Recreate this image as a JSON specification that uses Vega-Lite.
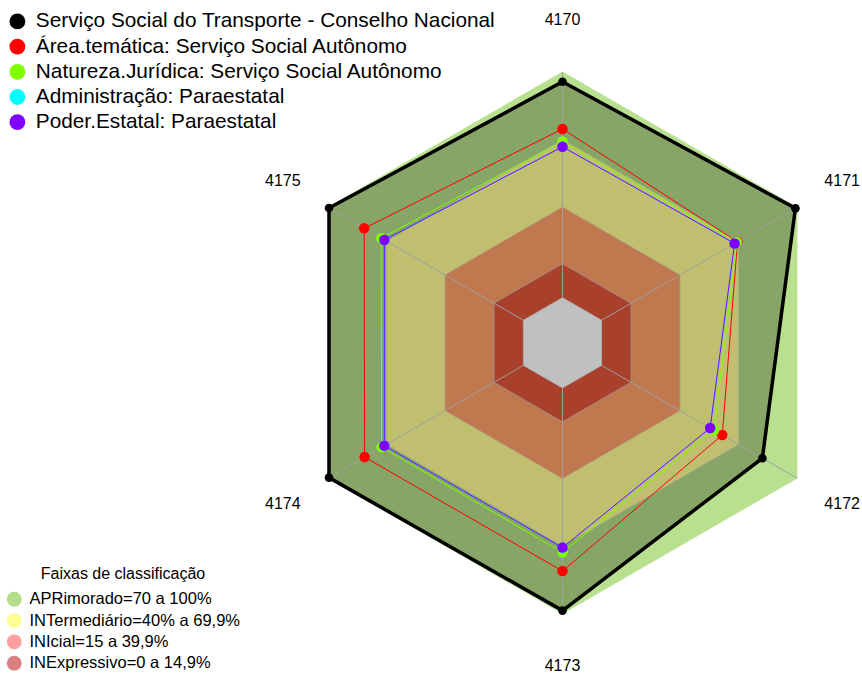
{
  "$schema": "https://vega.github.io/schema/vega-lite/v6.json",
  "width": 862,
  "height": 675,
  "padding": 0,
  "autosize": "none",
  "background": "white",
  "config": {"view": {"stroke": null}, "font": "Liberation Sans"},
  "datasets": {
    "series": [
      {"serie": "Serviço Social do Transporte - Conselho Nacional", "eixo": "4170", "idx": 0, "v": 95.6},
      {"serie": "Serviço Social do Transporte - Conselho Nacional", "eixo": "4171", "idx": 1, "v": 99.1},
      {"serie": "Serviço Social do Transporte - Conselho Nacional", "eixo": "4172", "idx": 2, "v": 82.2},
      {"serie": "Serviço Social do Transporte - Conselho Nacional", "eixo": "4173", "idx": 3, "v": 98.6},
      {"serie": "Serviço Social do Transporte - Conselho Nacional", "eixo": "4174", "idx": 4, "v": 99.4},
      {"serie": "Serviço Social do Transporte - Conselho Nacional", "eixo": "4175", "idx": 5, "v": 99.4},
      {"serie": "Área.temática: Serviço Social Autônomo", "eixo": "4170", "idx": 0, "v": 74.7},
      {"serie": "Área.temática: Serviço Social Autônomo", "eixo": "4171", "idx": 1, "v": 69.5},
      {"serie": "Área.temática: Serviço Social Autônomo", "eixo": "4172", "idx": 2, "v": 61.7},
      {"serie": "Área.temática: Serviço Social Autônomo", "eixo": "4173", "idx": 3, "v": 81.1},
      {"serie": "Área.temática: Serviço Social Autônomo", "eixo": "4174", "idx": 4, "v": 81.2},
      {"serie": "Área.temática: Serviço Social Autônomo", "eixo": "4175", "idx": 5, "v": 81.4},
      {"serie": "Natureza.Jurídica: Serviço Social Autônomo", "eixo": "4170", "idx": 0, "v": 69.1},
      {"serie": "Natureza.Jurídica: Serviço Social Autônomo", "eixo": "4171", "idx": 1, "v": 69.2},
      {"serie": "Natureza.Jurídica: Serviço Social Autônomo", "eixo": "4172", "idx": 2, "v": 57.5},
      {"serie": "Natureza.Jurídica: Serviço Social Autônomo", "eixo": "4173", "idx": 3, "v": 72.8},
      {"serie": "Natureza.Jurídica: Serviço Social Autônomo", "eixo": "4174", "idx": 4, "v": 72.5},
      {"serie": "Natureza.Jurídica: Serviço Social Autônomo", "eixo": "4175", "idx": 5, "v": 72.7},
      {"serie": "Administração: Paraestatal", "eixo": "4170", "idx": 0, "v": 66.8},
      {"serie": "Administração: Paraestatal", "eixo": "4171", "idx": 1, "v": 68.0},
      {"serie": "Administração: Paraestatal", "eixo": "4172", "idx": 2, "v": 55.5},
      {"serie": "Administração: Paraestatal", "eixo": "4173", "idx": 3, "v": 70.7},
      {"serie": "Administração: Paraestatal", "eixo": "4174", "idx": 4, "v": 71.1},
      {"serie": "Administração: Paraestatal", "eixo": "4175", "idx": 5, "v": 71.1},
      {"serie": "Poder.Estatal: Paraestatal", "eixo": "4170", "idx": 0, "v": 66.8},
      {"serie": "Poder.Estatal: Paraestatal", "eixo": "4171", "idx": 1, "v": 68.0},
      {"serie": "Poder.Estatal: Paraestatal", "eixo": "4172", "idx": 2, "v": 55.5},
      {"serie": "Poder.Estatal: Paraestatal", "eixo": "4173", "idx": 3, "v": 70.7},
      {"serie": "Poder.Estatal: Paraestatal", "eixo": "4174", "idx": 4, "v": 71.1},
      {"serie": "Poder.Estatal: Paraestatal", "eixo": "4175", "idx": 5, "v": 71.1}
    ],
    "faixas": [
      {"faixa": "APR", "idx": 0, "v": 100}, {"faixa": "APR", "idx": 1, "v": 100}, {"faixa": "APR", "idx": 2, "v": 100},
      {"faixa": "APR", "idx": 3, "v": 100}, {"faixa": "APR", "idx": 4, "v": 100}, {"faixa": "APR", "idx": 5, "v": 100},
      {"faixa": "INT", "idx": 0, "v": 70}, {"faixa": "INT", "idx": 1, "v": 70}, {"faixa": "INT", "idx": 2, "v": 70},
      {"faixa": "INT", "idx": 3, "v": 70}, {"faixa": "INT", "idx": 4, "v": 70}, {"faixa": "INT", "idx": 5, "v": 70},
      {"faixa": "INI", "idx": 0, "v": 40}, {"faixa": "INI", "idx": 1, "v": 40}, {"faixa": "INI", "idx": 2, "v": 40},
      {"faixa": "INI", "idx": 3, "v": 40}, {"faixa": "INI", "idx": 4, "v": 40}, {"faixa": "INI", "idx": 5, "v": 40},
      {"faixa": "INE", "idx": 0, "v": 15}, {"faixa": "INE", "idx": 1, "v": 15}, {"faixa": "INE", "idx": 2, "v": 15},
      {"faixa": "INE", "idx": 3, "v": 15}, {"faixa": "INE", "idx": 4, "v": 15}, {"faixa": "INE", "idx": 5, "v": 15},
      {"faixa": "ZERO", "idx": 0, "v": 0}, {"faixa": "ZERO", "idx": 1, "v": 0}, {"faixa": "ZERO", "idx": 2, "v": 0},
      {"faixa": "ZERO", "idx": 3, "v": 0}, {"faixa": "ZERO", "idx": 4, "v": 0}, {"faixa": "ZERO", "idx": 5, "v": 0}
    ],
    "eixos": [
      {"eixo": "4170", "idx": 0}, {"eixo": "4171", "idx": 1}, {"eixo": "4172", "idx": 2},
      {"eixo": "4173", "idx": 3}, {"eixo": "4174", "idx": 4}, {"eixo": "4175", "idx": 5}
    ],
    "legenda": [
      {"nome": "APRimorado=70 a 100%", "idx": 0, "v": 0},
      {"nome": "INTermediário=40% a 69,9%", "idx": 0, "v": 0},
      {"nome": "INIcial=15 a 39,9%", "idx": 0, "v": 0},
      {"nome": "INExpressivo=0 a 14,9%", "idx": 0, "v": 0}
    ]
  },
  "encoding": {
    "x": {"field": "px", "type": "quantitative", "scale": {"domain": [-562.5, 299.5], "nice": false, "zero": false}, "axis": null},
    "y": {"field": "py", "type": "quantitative", "scale": {"domain": [-332.2, 342.8], "nice": false, "zero": false}, "axis": null}
  },
  "layer": [
    {
      "data": {"name": "faixas"},
      "transform": [
        {"filter": "datum.faixa === 'APR'"},
        {"calculate": "45.17 + 2.258*datum.v", "as": "r"},
        {"calculate": "datum.r*sin(datum.idx*PI/3)", "as": "px"},
        {"calculate": "datum.r*cos(datum.idx*PI/3)", "as": "py"}
      ],
      "mark": {"type": "line", "interpolate": "linear-closed", "fill": "#b8e08f", "stroke": "#b8e08f", "strokeWidth": 0.5},
      "encoding": {"order": {"field": "idx", "type": "quantitative"}}
    },
    {
      "data": {"name": "series"},
      "transform": [
        {"filter": "datum.serie === 'Serviço Social do Transporte - Conselho Nacional'"},
        {"calculate": "45.17 + 2.258*datum.v", "as": "r"},
        {"calculate": "datum.r*sin(datum.idx*PI/3)", "as": "px"},
        {"calculate": "datum.r*cos(datum.idx*PI/3)", "as": "py"}
      ],
      "mark": {"type": "line", "interpolate": "linear-closed", "fill": "#87a567", "stroke": "#87a567", "strokeWidth": 0.5},
      "encoding": {"order": {"field": "idx", "type": "quantitative"}}
    },
    {
      "data": {"name": "faixas"},
      "transform": [
        {"filter": "datum.faixa === 'INT'"},
        {"calculate": "45.17 + 2.258*datum.v", "as": "r"},
        {"calculate": "datum.r*sin(datum.idx*PI/3)", "as": "px"},
        {"calculate": "datum.r*cos(datum.idx*PI/3)", "as": "py"}
      ],
      "mark": {"type": "line", "interpolate": "linear-closed", "fill": "#c0bf70", "stroke": "#a9a98a", "strokeWidth": 0.8},
      "encoding": {"order": {"field": "idx", "type": "quantitative"}}
    },
    {
      "data": {"name": "faixas"},
      "transform": [
        {"filter": "datum.faixa === 'INI'"},
        {"calculate": "45.17 + 2.258*datum.v", "as": "r"},
        {"calculate": "datum.r*sin(datum.idx*PI/3)", "as": "px"},
        {"calculate": "datum.r*cos(datum.idx*PI/3)", "as": "py"}
      ],
      "mark": {"type": "line", "interpolate": "linear-closed", "fill": "#c0784f", "stroke": "#b08a78", "strokeWidth": 0.8},
      "encoding": {"order": {"field": "idx", "type": "quantitative"}}
    },
    {
      "data": {"name": "faixas"},
      "transform": [
        {"filter": "datum.faixa === 'INE'"},
        {"calculate": "45.17 + 2.258*datum.v", "as": "r"},
        {"calculate": "datum.r*sin(datum.idx*PI/3)", "as": "px"},
        {"calculate": "datum.r*cos(datum.idx*PI/3)", "as": "py"}
      ],
      "mark": {"type": "line", "interpolate": "linear-closed", "fill": "#a8402b", "stroke": "#a09090", "strokeWidth": 0.8},
      "encoding": {"order": {"field": "idx", "type": "quantitative"}}
    },
    {
      "data": {"name": "faixas"},
      "transform": [
        {"filter": "datum.faixa === 'ZERO'"},
        {"calculate": "45.17 + 2.258*datum.v", "as": "r"},
        {"calculate": "datum.r*sin(datum.idx*PI/3)", "as": "px"},
        {"calculate": "datum.r*cos(datum.idx*PI/3)", "as": "py"}
      ],
      "mark": {"type": "line", "interpolate": "linear-closed", "fill": "#c0c0c0", "stroke": "#b0b0b0", "strokeWidth": 0.8},
      "encoding": {"order": {"field": "idx", "type": "quantitative"}}
    },
    {
      "data": {"name": "eixos"},
      "transform": [
        {"calculate": "45.17*sin(datum.idx*PI/3)", "as": "px"},
        {"calculate": "45.17*cos(datum.idx*PI/3)", "as": "py"},
        {"calculate": "(45.17 + 2.258*100)*sin(datum.idx*PI/3)", "as": "px2"},
        {"calculate": "(45.17 + 2.258*100)*cos(datum.idx*PI/3)", "as": "py2"}
      ],
      "mark": {"type": "rule", "color": "#a0a0a0", "strokeWidth": 1},
      "encoding": {
        "x2": {"field": "px2"},
        "y2": {"field": "py2"}
      }
    },
    {
      "data": {"name": "series"},
      "transform": [
        {"filter": "datum.serie === 'Serviço Social do Transporte - Conselho Nacional'"},
        {"calculate": "45.17 + 2.258*datum.v", "as": "r"},
        {"calculate": "datum.r*sin(datum.idx*PI/3)", "as": "px"},
        {"calculate": "datum.r*cos(datum.idx*PI/3)", "as": "py"}
      ],
      "mark": {"type": "line", "interpolate": "linear-closed", "strokeWidth": 3.5, "stroke": "#000000"},
      "encoding": {"order": {"field": "idx", "type": "quantitative"}}
    },
    {
      "data": {"name": "series"},
      "transform": [
        {"filter": "datum.serie === 'Área.temática: Serviço Social Autônomo'"},
        {"calculate": "45.17 + 2.258*datum.v", "as": "r"},
        {"calculate": "datum.r*sin(datum.idx*PI/3)", "as": "px"},
        {"calculate": "datum.r*cos(datum.idx*PI/3)", "as": "py"}
      ],
      "mark": {"type": "line", "interpolate": "linear-closed", "strokeWidth": 1, "stroke": "#ff0000"},
      "encoding": {"order": {"field": "idx", "type": "quantitative"}}
    },
    {
      "data": {"name": "series"},
      "transform": [
        {"filter": "datum.serie === 'Natureza.Jurídica: Serviço Social Autônomo'"},
        {"calculate": "45.17 + 2.258*datum.v", "as": "r"},
        {"calculate": "datum.r*sin(datum.idx*PI/3)", "as": "px"},
        {"calculate": "datum.r*cos(datum.idx*PI/3)", "as": "py"}
      ],
      "mark": {"type": "line", "interpolate": "linear-closed", "strokeWidth": 1, "stroke": "#80ff00"},
      "encoding": {"order": {"field": "idx", "type": "quantitative"}}
    },
    {
      "data": {"name": "series"},
      "transform": [
        {"filter": "datum.serie === 'Administração: Paraestatal'"},
        {"calculate": "45.17 + 2.258*datum.v", "as": "r"},
        {"calculate": "datum.r*sin(datum.idx*PI/3)", "as": "px"},
        {"calculate": "datum.r*cos(datum.idx*PI/3)", "as": "py"}
      ],
      "mark": {"type": "line", "interpolate": "linear-closed", "strokeWidth": 1, "stroke": "#00ffff"},
      "encoding": {"order": {"field": "idx", "type": "quantitative"}}
    },
    {
      "data": {"name": "series"},
      "transform": [
        {"filter": "datum.serie === 'Poder.Estatal: Paraestatal'"},
        {"calculate": "45.17 + 2.258*datum.v", "as": "r"},
        {"calculate": "datum.r*sin(datum.idx*PI/3)", "as": "px"},
        {"calculate": "datum.r*cos(datum.idx*PI/3)", "as": "py"}
      ],
      "mark": {"type": "line", "interpolate": "linear-closed", "strokeWidth": 1, "stroke": "#8000ff"},
      "encoding": {"order": {"field": "idx", "type": "quantitative"}}
    },
    {
      "data": {"name": "series"},
      "transform": [
        {"filter": "datum.serie === 'Serviço Social do Transporte - Conselho Nacional'"},
        {"calculate": "45.17 + 2.258*datum.v", "as": "r"},
        {"calculate": "datum.r*sin(datum.idx*PI/3)", "as": "px"},
        {"calculate": "datum.r*cos(datum.idx*PI/3)", "as": "py"}
      ],
      "mark": {"type": "point", "filled": true, "opacity": 1, "size": 75},
      "encoding": {
        "color": {"field": "serie", "type": "nominal",
          "scale": {"domain": ["Serviço Social do Transporte - Conselho Nacional", "Área.temática: Serviço Social Autônomo", "Natureza.Jurídica: Serviço Social Autônomo", "Administração: Paraestatal", "Poder.Estatal: Paraestatal"],
                    "range": ["#000000", "#ff0000", "#80ff00", "#00ffff", "#8000ff"]},
          "legend": {"title": null, "orient": "none", "legendX": 7, "legendY": 11, "symbolType": "circle", "symbolSize": 250, "symbolStrokeWidth": 0, "symbolOpacity": 1,
                     "labelFontSize": 20.8, "labelFont": "Liberation Sans", "labelColor": "#000000", "labelOffset": 8, "labelLimit": 700, "rowPadding": 3.2, "padding": 0}}
      }
    },
    {
      "data": {"name": "series"},
      "transform": [
        {"filter": "datum.serie !== 'Serviço Social do Transporte - Conselho Nacional'"},
        {"calculate": "45.17 + 2.258*datum.v", "as": "r"},
        {"calculate": "datum.r*sin(datum.idx*PI/3)", "as": "px"},
        {"calculate": "datum.r*cos(datum.idx*PI/3)", "as": "py"}
      ],
      "mark": {"type": "point", "filled": true, "opacity": 1, "size": 110},
      "encoding": {
        "color": {"field": "serie", "type": "nominal"}
      }
    },
    {
      "data": {"name": "eixos"},
      "transform": [
        {"calculate": "(45.17 + 2.258*123)*sin(datum.idx*PI/3)", "as": "px"},
        {"calculate": "(45.17 + 2.258*123)*cos(datum.idx*PI/3)", "as": "py"}
      ],
      "mark": {"type": "text", "fontSize": 16, "font": "Liberation Sans", "color": "#000000", "align": "center", "baseline": "middle"},
      "encoding": {"text": {"field": "eixo"}}
    },
    {
      "data": {"name": "legenda"},
      "transform": [
        {"calculate": "0", "as": "px"},
        {"calculate": "0", "as": "py"}
      ],
      "mark": {"type": "point", "filled": true, "size": 0, "strokeWidth": 0},
      "encoding": {
        "fill": {"field": "nome", "type": "nominal",
          "scale": {"domain": ["APRimorado=70 a 100%", "INTermediário=40% a 69,9%", "INIcial=15 a 39,9%", "INExpressivo=0 a 14,9%"],
                    "range": ["#b5dd8c", "#fdfd94", "#ff9f9f", "#d98282"]},
          "legend": {"title": "Faixas de classificação", "orient": "none", "legendX": 6, "legendY": 566,
                     "titleFontSize": 16, "titleFont": "Liberation Sans", "titleFontWeight": "normal", "titleColor": "#000000", "titleAnchor": "middle", "titlePadding": 9,
                     "symbolType": "circle", "symbolSize": 220, "symbolStrokeWidth": 0, "symbolOpacity": 1,
                     "labelFontSize": 16.5, "labelFont": "Liberation Sans", "labelColor": "#000000", "labelOffset": 7, "labelLimit": 500, "rowPadding": 4.3, "padding": 0}}
      }
    }
  ]
}
